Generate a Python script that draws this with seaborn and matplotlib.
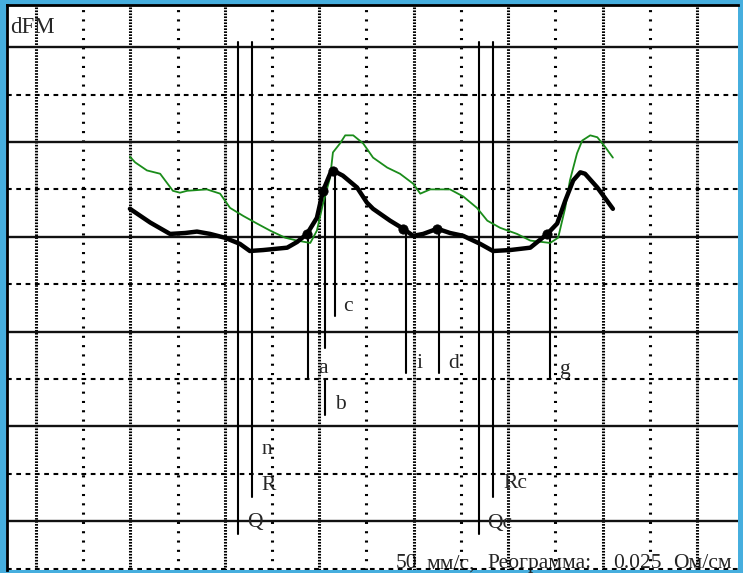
import numpy as np
import pandas as pd
import matplotlib
matplotlib.use("Agg")
import matplotlib.pyplot as plt
import seaborn as sns

# time in grid divisions, amplitude in grid divisions (0 = baseline)
black_t = [1.99, 2.42, 2.84, 3.16, 3.41, 3.69, 4.00, 4.32, 4.53, 4.81, 5.32, 5.53, 5.74,
           5.95, 6.08, 6.23, 6.29, 6.50, 6.80, 7.01, 7.14, 7.50, 7.78, 7.99, 8.20, 8.50,
           8.77, 9.05, 9.41, 9.68, 10.04, 10.47, 10.83, 11.04, 11.21, 11.38, 11.53, 11.63,
           11.89, 12.22]
black_v = [0.59, 0.30, 0.06, 0.08, 0.11, 0.06, -0.02, -0.15, -0.30, -0.28, -0.23, -0.11, 0.06,
           0.40, 0.97, 1.33, 1.40, 1.29, 1.04, 0.72, 0.59, 0.34, 0.17, 0.02, 0.06, 0.17,
           0.08, 0.02, -0.15, -0.30, -0.28, -0.23, 0.06, 0.28, 0.76, 1.19, 1.36, 1.33,
           1.04, 0.59]

green_t = [1.99, 2.10, 2.35, 2.63, 2.90, 3.05, 3.20, 3.62, 3.90, 4.11, 4.39, 4.68, 4.96,
           5.28, 5.53, 5.81, 5.95, 6.08, 6.23, 6.29, 6.44, 6.55, 6.72, 6.93, 7.14, 7.44,
           7.71, 7.99, 8.14, 8.35, 8.77, 9.05, 9.34, 9.56, 9.83, 10.19, 10.47, 10.89,
           11.06, 11.21, 11.31, 11.46, 11.57, 11.74, 11.89, 12.06, 12.22]
green_v = [1.69, 1.57, 1.40, 1.33, 0.97, 0.93, 0.97, 1.00, 0.91, 0.61, 0.44, 0.28, 0.13,
           -0.02, -0.08, -0.13, 0.13, 0.70, 1.25, 1.78, 1.97, 2.14, 2.14, 1.97, 1.67, 1.46,
           1.33, 1.12, 0.91, 1.00, 1.00, 0.85, 0.61, 0.34, 0.19, 0.06, -0.08, -0.13,
           -0.02, 0.61, 1.19, 1.76, 2.03, 2.14, 2.10, 1.89, 1.67]

dot_t = [5.74, 6.08, 6.29, 7.78, 8.50, 10.83]
dot_v = [0.06, 0.97, 1.38, 0.17, 0.17, 0.06]

# marker lines: position, top, bottom
mark_t = [4.28, 4.58, 5.76, 6.12, 6.12, 6.33, 7.84, 8.54, 9.39, 9.68, 10.89]
mark_top = [4.11, 4.11, 0.06, 0.97, -2.99, 1.40, 0.17, 0.17, 4.11, 4.11, 0.06]
mark_bot = [-6.27, -5.49, -3.01, -2.35, -3.77, -1.67, -2.88, -2.88, -6.27, -5.49, -2.99]

labels = ["Q", "R", "n", "a", "b", "c", "i", "d", "g", "Rc", "Qc"]
label_t = [4.64, 4.92, 4.89, 6.08, 6.44, 6.61, 8.12, 8.84, 11.19, 10.15, 9.83]
label_v = [-6.02, -5.25, -4.49, -2.78, -3.54, -1.48, -2.67, -2.67, -2.80, -5.21, -6.04]

footer_words = ["50", "мм/с,", "Реограмма:", "0.025", "Ом/см"]
footer_t = [7.62, 8.28, 9.56, 12.22, 13.5]

sns.set_theme(style="white")
plt.rcParams["font.family"] = ["Liberation Serif", "DejaVu Serif"]
plt.rcParams["lines.scale_dashes"] = False

fig = plt.figure(figsize=(7.43, 5.73), dpi=100, facecolor="#46aede")
ax = fig.add_axes([7 / 743, 3 / 573, 731 / 743, 565 / 573])
ax.set_facecolor("white")
ax.set_xlim(-0.614, 14.87)
ax.set_ylim(-7.03, 4.89)
ax.set_xticks([])
ax.set_yticks([])
for side in ["right", "bottom"]:
    ax.spines[side].set_visible(False)
for side in ["left", "top"]:
    ax.spines[side].set_color("black")
    ax.spines[side].set_linewidth(2)

# grid
for k in range(15):
    if k % 2 == 0:
        ax.axvline(k, color="black", lw=2.2, ls=(0, (1.2, 0.95)), zorder=1)
    else:
        ax.axvline(k, color="black", lw=2.2, ls=(0, (1.5, 5.2)), zorder=1)
for v in range(-7, 5):
    if v % 2 == 0:
        ax.axhline(v, color="#111111", lw=1.7, zorder=1)
    else:
        ax.axhline(v, color="black", lw=1.5, ls=(0, (3.4, 3.3)), zorder=1)

# marker lines
for t, top, bot in zip(mark_t, mark_top, mark_bot):
    ax.plot([t, t], [bot, top], color="black", lw=1.5, zorder=2)

green = pd.DataFrame({"t": green_t, "v": green_v})
black = pd.DataFrame({"t": black_t, "v": black_v})
sns.lineplot(data=green, x="t", y="v", sort=False, estimator=None, color="#1a8c1a",
             lw=1.3, ax=ax, zorder=3)
sns.lineplot(data=black, x="t", y="v", sort=False, estimator=None, color="black",
             lw=3.2, ax=ax, zorder=4)
sns.scatterplot(x=dot_t, y=dot_v, color="black", s=45, edgecolor="black", ax=ax, zorder=5)
ax.set_xlabel("")
ax.set_ylabel("")

for lab, t, v in zip(labels, label_t, label_v):
    ax.text(t, v, lab, fontsize=15.5, ha="center", va="center", zorder=6)

ax.text(-0.55, 4.30, "dFM", fontsize=16.5, ha="left", va="baseline", zorder=6)

for w, t in zip(footer_words, footer_t):
    ax.text(t, -6.99, w, fontsize=15.5, ha="left", va="baseline", zorder=0.5)

fig.savefig("out.png", dpi=100, facecolor=fig.get_facecolor())
